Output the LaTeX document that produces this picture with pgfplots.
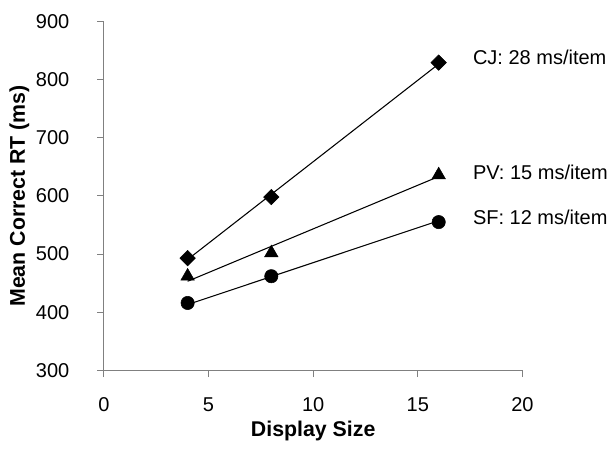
\documentclass[border=0pt]{standalone}
\usepackage{fontspec}
\setmainfont{Liberation Sans}
\usepackage{pgfplots}
\pgfplotsset{compat=1.18}
\definecolor{axgray}{RGB}{128,128,128}
\begin{document}
\begin{tikzpicture}
\path[use as bounding box] (-78pt,-63pt) rectangle (382pt,278pt);
\begin{axis}[
  at={(0,0)}, anchor=south west,
  scale only axis,
  width=314pt,
  height=262pt,
  xmin=0, xmax=20,
  ymin=300, ymax=900,
  xtick={0,5,10,15,20},
  ytick={300,400,500,600,700,800,900},
  axis x line=bottom,
  axis y line=left,
  axis line style={-, axgray, line width=0.7pt},
  tick style={axgray, line width=0.7pt},
  tick align=outside,
  major tick length=5pt,
  font=\fontsize{15}{18}\selectfont,
  /pgf/number format/assume math mode=true,
  xticklabel style={yshift=-12pt},
  yticklabel style={xshift=-17.5pt},
  xlabel={\fontsize{16}{18}\selectfont\bfseries Display Size},
  ylabel={\fontsize{16}{18}\selectfont\bfseries Mean Correct RT (ms)},
  xlabel style={yshift=0pt},
  ylabel style={yshift=-2pt},
  clip=false,
]
% fitted lines
\addplot[black, line width=0.8pt, no marks] coordinates {(4,490.7) (16,826.7)};
\addplot[black, line width=0.8pt, no marks] coordinates {(4,453.3) (16,633.3)};
\addplot[black, line width=0.8pt, no marks] coordinates {(4,413.3) (16,557.3)};
% observed means
\addplot[only marks, mark=square*, mark size=4.1pt, mark options={black, rotate=45}] coordinates {(4,493) (8,598) (16,829)};
\addplot[only marks, mark=triangle*, mark size=5.8pt, mark options={black}] coordinates {(4,462) (8,502) (16,636)};
\addplot[only marks, mark=*, mark size=5pt, mark options={black}] coordinates {(4,416) (8,462) (16,555)};
\node[anchor=base west, inner sep=0pt] at (axis cs:17.63,826) {CJ: 28 ms/item};
\node[anchor=base west, inner sep=0pt] at (axis cs:17.63,628) {PV: 15 ms/item};
\node[anchor=base west, inner sep=0pt] at (axis cs:17.63,551) {SF: 12 ms/item};
\end{axis}
\end{tikzpicture}
\end{document}
